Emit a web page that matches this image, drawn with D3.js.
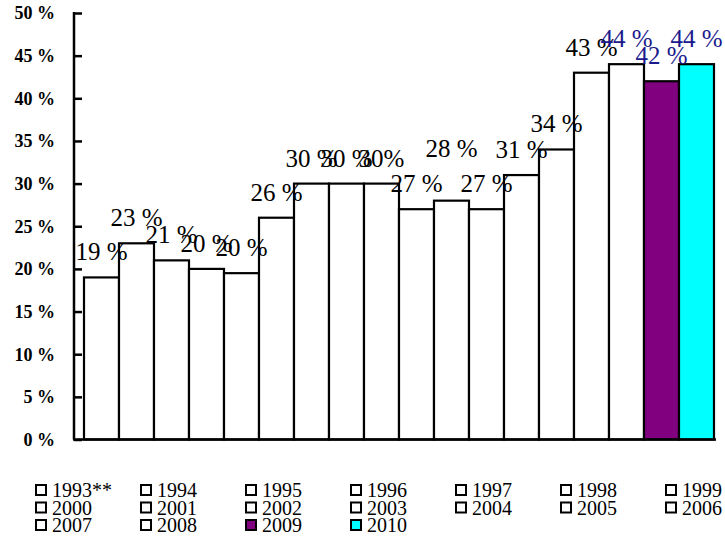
<!DOCTYPE html>
<html><head><meta charset="utf-8">
<script src="https://cdn.jsdelivr.net/npm/d3@7"></script>
<style>body{margin:0;background:#fff}svg{display:block}</style>
</head><body>
<svg id="c" width="725" height="539"></svg>
<script>
const years = ["1993**","1994","1995","1996","1997","1998","1999","2000","2001","2002","2003","2004","2005","2006","2007","2008","2009","2010"];
const values = [19,23,21,20,19.5,26,30,30,30,27,28,27,31,34,43,44,42,44];
const labels = ["19 %","23 %","21 %","20 %","20 %","26 %","30 %","30 %","30%","27 %","28 %","27 %","31 %","34 %","43 %","44 %","42 %","44 %"];
const fills = ["#fff","#fff","#fff","#fff","#fff","#fff","#fff","#fff","#fff","#fff","#fff","#fff","#fff","#fff","#fff","#fff","#800080","#00ffff"];
const labelColors = years.map((y,i)=> i>=15 ? "#1a1a8c" : "#000");
const yTicks = [0,5,10,15,20,25,30,35,40,45,50];

const FONT = '"Liberation Serif"';
const svg = d3.select("#c");
const x = d3.scaleBand().domain(years).range([84,714]).padding(0);
const y = d3.scaleLinear().domain([0,50]).range([439.5,13]);

// bars
svg.append("g").selectAll("rect").data(years).join("rect")
  .attr("x", d=>x(d)).attr("width", x.bandwidth())
  .attr("y", (d,i)=>y(values[i])).attr("height", (d,i)=>y(0)-y(values[i]))
  .attr("fill", (d,i)=>fills[i]).attr("stroke","#000").attr("stroke-width",2.2);

// y axis
const yAxis = d3.axisRight(y).tickValues(yTicks).tickSize(8).tickFormat(d=>d+" %");
const ga = svg.append("g").attr("transform","translate(74,0)").call(yAxis);
ga.attr("font-family",null);
ga.select(".domain").attr("stroke","#000").attr("stroke-width",2.5).attr("d","M0,12V439.5");
ga.selectAll(".tick line").attr("stroke","#000").attr("stroke-width",2.5);
ga.selectAll(".tick text").attr("x",-19).attr("text-anchor","end").attr("dy","0.33em")
  .style("font-family",FONT).style("font-weight","bold")
  .attr("font-size",18).attr("fill","#000");

// x axis line
svg.append("line").attr("x1",73).attr("x2",716).attr("y1",y(0)).attr("y2",y(0))
  .attr("stroke","#000").attr("stroke-width",2.5);

// data labels (the 2003 label sits higher in the original)
svg.append("g").selectAll("text").data(years).join("text")
  .attr("x", d=>x(d)+x.bandwidth()/2)
  .attr("y", (d,i)=>y(values[i]) - (years[i]==="2003" ? 44 : 17))
  .attr("text-anchor","middle")
  .style("font-family",FONT)
  .attr("font-size",25)
  .attr("fill",(d,i)=>labelColors[i])
  .text((d,i)=>labels[i]);

// legend
const lg = svg.append("g");
years.forEach((yr,i)=>{
  const col = i%7, row = Math.floor(i/7);
  const lx = 35 + col*105, ly = 490 + row*17.5;
  lg.append("rect").attr("x",lx+1).attr("y",ly-5).attr("width",10).attr("height",10)
    .attr("fill",fills[i]).attr("stroke","#000").attr("stroke-width",2);
  lg.append("text").attr("x",lx+17).attr("y",ly).attr("dy","0.36em")
    .style("font-family",FONT).attr("font-size",20)
    .attr("fill","#000").text(yr);
});
</script>
</body></html>
